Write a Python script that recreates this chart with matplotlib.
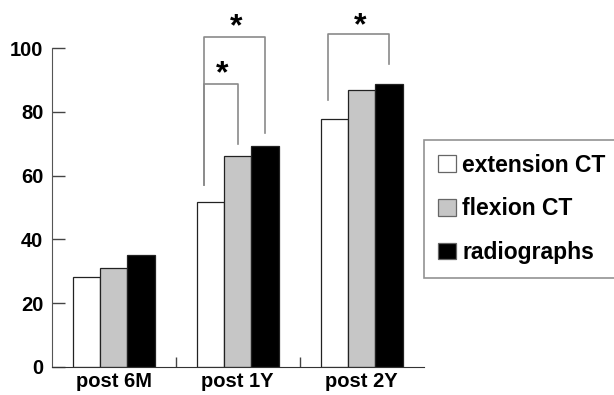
import matplotlib.pyplot as plt
import numpy as np

plt.rcParams['font.family'] = ['Liberation Sans', 'DejaVu Sans']
plt.rcParams['font.weight'] = 'bold'

groups = ['post 6M', 'post 1Y', 'post 2Y']
series = ['extension CT', 'flexion CT', 'radiographs']
colors = ['white', '#c6c6c6', 'black']
values = {
    'extension CT': [28.3, 51.8, 77.7],
    'flexion CT': [31.1, 66.3, 86.9],
    'radiographs': [35.1, 69.2, 88.9],
}

# significance brackets: (group, from series, to series, left foot, right foot, top, star y)
brackets = [
    (1, 0, 1, 57.1, 70.0, 88.8, 91.8),
    (1, 0, 2, 57.1, 73.3, 103.5, 106.5),
    (2, 0, 2, 83.8, 95.1, 104.5, 107.0),
]

width = 0.22
x = np.arange(len(groups))

fig = plt.figure(figsize=(6.14, 3.95), dpi=100)
ax = fig.add_axes([0.0842, 0.0717, 0.606, 0.806])

for i, name in enumerate(series):
    ax.bar(x + (i - 1) * width, values[name], width, color=colors[i],
           edgecolor='#222222', linewidth=0.9, label=name)

for g, s0, s1, yl, yr, top, sy in brackets:
    x0 = x[g] + (s0 - 1) * width - 0.05
    x1 = x[g] + (s1 - 1) * width
    ax.plot([x0, x0, x1, x1], [yl, top, top, yr], color='#8a8a8a',
            linewidth=1.2, clip_on=False)
    ax.text((x0 + x1) / 2 + 0.01, sy, '*', fontsize=23, fontweight='bold',
            ha='center', va='center', clip_on=False)

ax.set_xlim(-0.5, 2.5)
ax.set_ylim(0, 100)
ax.set_yticks([0, 20, 40, 60, 80, 100])
ax.set_xticks(x)
ax.set_xticklabels(groups)
ax.set_xticks([0.5, 1.5], minor=True)
ax.tick_params(axis='y', direction='in', length=9, width=1, color='#444444',
               labelsize=14.5, pad=6)
ax.tick_params(axis='x', which='major', length=0, labelsize=14.5, pad=4)
ax.tick_params(axis='x', which='minor', direction='in', length=7, width=1,
               color='#444444')
for lab in ax.get_xticklabels() + ax.get_yticklabels():
    lab.set_fontweight('bold')

ax.spines['top'].set_visible(False)
ax.spines['right'].set_visible(False)
ax.spines['left'].set_color('#555555')
ax.spines['bottom'].set_color('#333333')

leg = fig.legend(loc='upper left', bbox_to_anchor=(424 / 614, 1 - 140 / 395),
                 fontsize=16.5, frameon=True, fancybox=False,
                 handlelength=0.78, handleheight=0.75, handletextpad=0.3,
                 labelspacing=0.9, borderpad=0.6, borderaxespad=0)
leg.get_frame().set_edgecolor('#777777')
leg.get_frame().set_linewidth(1.2)
for t in leg.get_texts():
    t.set_fontweight('bold')
for h in leg.legend_handles:
    h.set_edgecolor('#666666')

fig.savefig('out.png', dpi=100)
